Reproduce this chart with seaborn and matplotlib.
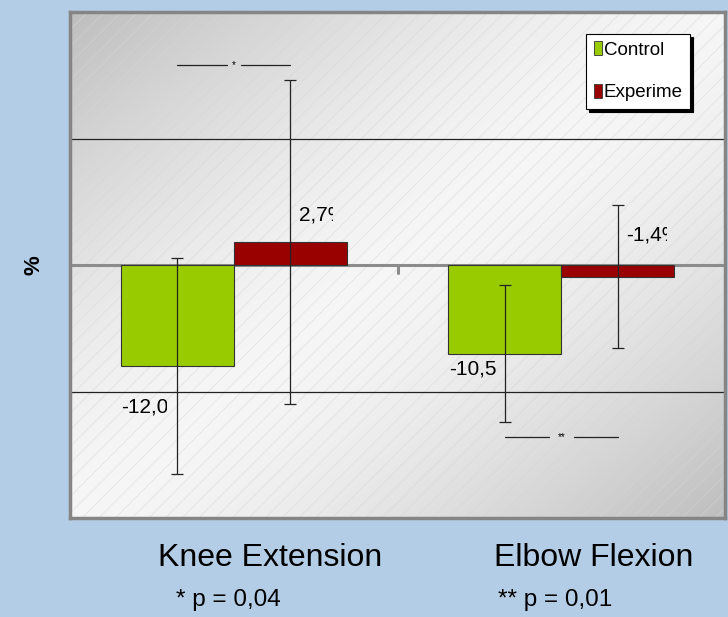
import numpy as np
import pandas as pd
import matplotlib
matplotlib.use("Agg")
import matplotlib.pyplot as plt
import seaborn as sns
from matplotlib.patches import Patch, Rectangle
from matplotlib.transforms import Bbox, TransformedBbox

# data
movements = ["Knee Extension", "Elbow Flexion"]
groups = ["Control", "Experime"]
control_vals = [-12.0, -10.5]
exper_vals = [2.7, -1.4]
control_sd = [12.8, 8.1]
exper_sd = [19.2, 8.5]
p_notes = ["* p = 0,04", "** p = 0,01"]
sig_marks = ["*", "**"]

GREEN = "#99CC00"
RED = "#990000"
BG = "#B4CDE6"

df = pd.DataFrame({
    "movement": movements * 2,
    "group": [groups[0]] * 2 + [groups[1]] * 2,
    "value": control_vals + exper_vals,
})

sns.set_style("white")
plt.rcParams["font.family"] = ["Liberation Sans", "DejaVu Sans"]
plt.rcParams["text.color"] = "black"
plt.rcParams["axes.labelcolor"] = "black"
plt.rcParams["hatch.linewidth"] = 0.6

fig = plt.figure(figsize=(7.28, 6.17), dpi=100, facecolor=BG)
ax = fig.add_axes([70 / 728, 1 - 518 / 617, 655 / 728, 506 / 617])

# gradient background of the plot area (dark - light - dark along the diagonal)
n = 200
u, v = np.meshgrid(np.linspace(0, 1, n), np.linspace(1, 0, n))
s = (u + (1 - v)) / 2
g = 0.965 - 0.22 * np.abs(2 * s - 1) ** 1.5
img = np.dstack([g, g, g])
ax.imshow(img, extent=[0, 1, 0, 1], transform=ax.transAxes, aspect="auto",
          zorder=0, interpolation="bilinear")
ax.add_patch(Rectangle((0, 0), 1, 1, transform=ax.transAxes, facecolor="none",
                       edgecolor=(0.84, 0.84, 0.84, 0.55), hatch="//", lw=0, zorder=0.5))

sns.barplot(data=df, x="movement", y="value", hue="group", order=movements,
            hue_order=groups, palette=[GREEN, RED], saturation=1, width=0.69,
            errorbar=None, edgecolor="#333333", linewidth=0.8, ax=ax,
            legend=False, zorder=3)

# gridlines and zero axis
for yv in (-15, 15):
    ax.axhline(yv, color="#222222", lw=0.9, zorder=1)
ax.axhline(0, color="#8C8C8C", lw=2.2, zorder=2)
ax.plot([0.5, 0.5], [0, -1], color="#8C8C8C", lw=2.2, zorder=2)

# error bars at bar centres
centers = []
for cont, sds in zip(ax.containers, [control_sd, exper_sd]):
    xs = [b.get_x() + b.get_width() / 2 for b in cont]
    hs = [b.get_height() for b in cont]
    centers.append(xs)
    ax.errorbar(xs, hs, yerr=sds, fmt="none", ecolor="#222222", elinewidth=0.9,
                capsize=4, capthick=0.9, zorder=4)

# value labels (clipped like the original label boxes)
lab_pos = [(-0.345, -16.8, 0.142), (0.657, -12.3, 0.147),
           (0.200, 5.9, 0.104), (1.199, 3.5, 0.124)]
all_vals = control_vals + exper_vals
for (lx, ly, w), val in zip(lab_pos, all_vals):
    t = ax.text(lx, ly, f"{val:.1f}%".replace(".", ","), ha="left", va="center",
                fontsize=15, zorder=5)
    t.set_clip_box(TransformedBbox(Bbox([[lx, ly - 3], [lx + w, ly + 3]]), ax.transData))
    t.set_clip_on(True)

# significance brackets
sig_y = [23.7, -20.4]
gaps = [0.021, 0.038]
for i, (mark, yv, gp) in enumerate(zip(sig_marks, sig_y, gaps)):
    x0, x1 = centers[0][i], centers[1][i]
    xm = (x0 + x1) / 2
    ax.plot([x0, xm - gp], [yv, yv], color="#222222", lw=0.9, zorder=4)
    ax.plot([xm + gp, x1], [yv, yv], color="#222222", lw=0.9, zorder=4)
    ax.text(xm, yv, mark, ha="center", va="center", fontsize=7, zorder=5)

ax.set_xlim(-0.5, 1.5)
ax.set_ylim(-30, 30)
ax.set_xticks([])
ax.set_yticks([])
ax.set_xlabel("")
ax.set_ylabel("%", fontsize=16, fontweight="bold", labelpad=18)
for sp in ax.spines.values():
    sp.set_color("#858585")
    sp.set_linewidth(2.5)

handles = [Patch(facecolor=GREEN, edgecolor="#333333", lw=0.6),
           Patch(facecolor=RED, edgecolor="#333333", lw=0.6)]
leg = ax.legend(handles, groups, loc="upper left", bbox_to_anchor=(0.788, 0.957),
                fontsize=13.5, handlelength=0.45, handleheight=0.75, handletextpad=0.1,
                labelspacing=1.35, borderpad=0.4, borderaxespad=0, fancybox=False,
                shadow={"color": "black", "alpha": 1}, framealpha=1)
leg.get_frame().set_edgecolor("black")
leg.get_frame().set_linewidth(0.8)

# category captions and p-values below the chart
fig.text(270 / 728, 1 - 558 / 617, movements[0], ha="center", va="center", fontsize=23)
fig.text(594 / 728, 1 - 558 / 617, movements[1], ha="center", va="center", fontsize=23)
fig.text(228 / 728, 1 - 600 / 617, p_notes[0], ha="center", va="center", fontsize=17.5)
fig.text(555 / 728, 1 - 600 / 617, p_notes[1], ha="center", va="center", fontsize=17.5)

fig.savefig("out.png", dpi=100, facecolor=BG)
